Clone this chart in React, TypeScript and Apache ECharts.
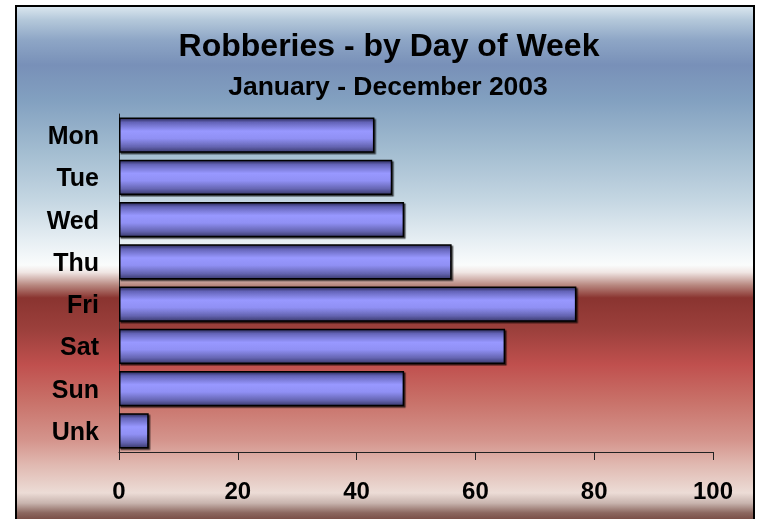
import React, { useEffect, useRef } from "react";
import * as echarts from "echarts";

const categories = ["Mon", "Tue", "Wed", "Thu", "Fri", "Sat", "Sun", "Unk"];
const robberies = [43, 46, 48, 56, 77, 65, 48, 5];
const xTicks = [0, 20, 40, 60, 80, 100];
const titleText = "Robberies - by Day of Week";
const subtitleText = "January - December 2003";

const FONT = "'Liberation Sans', Arial, sans-serif";

export default function App() {
  const ref = useRef<HTMLDivElement>(null);
  useEffect(() => {
    if (!ref.current) return;
    const chart = echarts.init(ref.current, undefined, { renderer: "svg" });
    const bgStops: [number, string][] = [
      [0, "#dce8f0"], [0.027, "#b4c8da"], [0.066, "#8ea6c6"], [0.115, "#7890b8"],
      [0.183, "#82a0c0"], [0.281, "#a2bcd0"], [0.378, "#c4d6e2"], [0.456, "#e6eef3"],
      [0.505, "#fafcfc"], [0.519, "#f0e6e4"], [0.544, "#b88880"], [0.569, "#8a3430"],
      [0.632, "#9c403c"], [0.7, "#c0504e"], [0.768, "#c87068"], [0.846, "#d4948c"],
      [0.893, "#e0b8b0"], [0.949, "#ecdcd6"], [0.969, "#c8b4ae"], [0.988, "#8c6860"],
      [1, "#7a5048"],
    ];
    const bg = new echarts.graphic.LinearGradient(
      0, 0, 0, 1,
      bgStops.map(([offset, color]) => ({ offset, color }))
    );
    const barFill = new echarts.graphic.LinearGradient(0, 0, 0, 1, [
      { offset: 0, color: "#2c2c5c" },
      { offset: 0.12, color: "#6464b8" },
      { offset: 0.38, color: "#9898ff" },
      { offset: 0.6, color: "#9090f4" },
      { offset: 0.85, color: "#6464b0" },
      { offset: 1, color: "#3c3c70" },
    ]);
    chart.setOption({
      animation: false,
      graphic: [
        {
          type: "rect",
          z: -10,
          silent: true,
          shape: { x: 16, y: 6, width: 738, height: 513 },
          style: { fill: bg, stroke: "none" },
        },
        {
          type: "polyline",
          z: -9,
          silent: true,
          shape: { points: [[16, 530], [16, 6], [754, 6], [754, 530]] },
          style: { fill: "none", stroke: "#000", lineWidth: 2 },
        },
      ],
      title: [
        {
          text: titleText,
          left: 384,
          top: 24,
          textAlign: "center",
          textStyle: { fontFamily: FONT, fontWeight: "bold", fontSize: 32, color: "#000" },
        },
        {
          text: subtitleText,
          left: 383,
          top: 67,
          textAlign: "center",
          textStyle: { fontFamily: FONT, fontWeight: "bold", fontSize: 26.5, color: "#000" },
        },
      ],
      grid: { left: 119, right: 47, top: 114, bottom: 67, containLabel: false },
      xAxis: {
        type: "value",
        min: xTicks[0],
        max: xTicks[xTicks.length - 1],
        interval: xTicks[1] - xTicks[0],
        axisLine: { show: true, lineStyle: { color: "#222", width: 1 } },
        axisTick: { show: true, length: 8, lineStyle: { color: "#222" } },
        splitLine: { show: false },
        axisLabel: {
          margin: 26,
          fontFamily: FONT,
          fontWeight: "bold",
          fontSize: 24,
          color: "#000",
        },
      },
      yAxis: {
        type: "category",
        inverse: true,
        data: categories,
        axisLine: { show: true, lineStyle: { color: "#222", width: 1 } },
        axisTick: { show: false },
        splitLine: { show: false },
        axisLabel: {
          margin: 20,
          fontFamily: FONT,
          fontWeight: "bold",
          fontSize: 25,
          color: "#000",
        },
      },
      series: [
        {
          type: "bar",
          data: robberies,
          barCategoryGap: "17%",
          itemStyle: {
            color: barFill,
            borderColor: "#000",
            borderWidth: 1.5,
            shadowColor: "rgba(0,0,0,0.7)",
            shadowOffsetX: 1.5,
            shadowOffsetY: 1.5,
            shadowBlur: 0,
          },
        },
      ],
    });
    return () => chart.dispose();
  }, []);
  return (
    <div
      ref={ref}
      style={{ position: "fixed", left: 0, top: 0, width: 760, height: 519 }}
    />
  );
}
